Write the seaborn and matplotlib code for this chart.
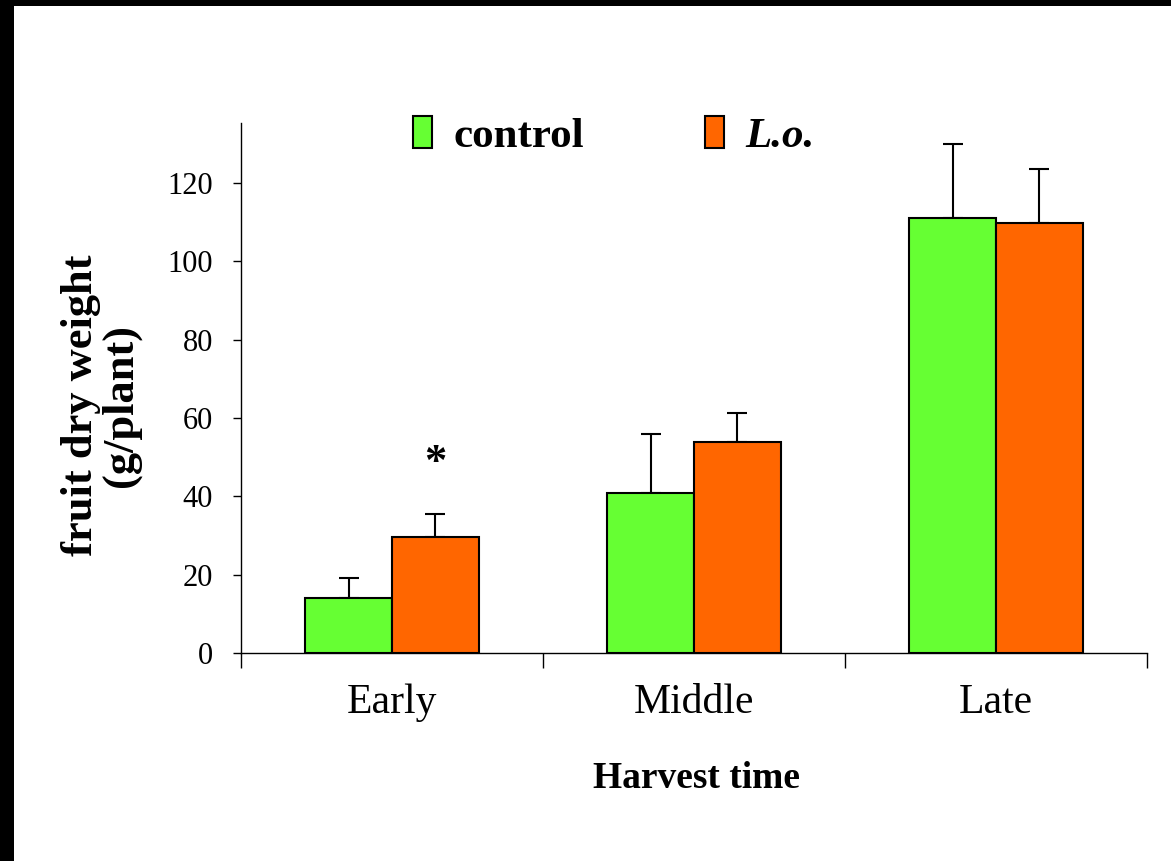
import numpy as np
import pandas as pd
import matplotlib
matplotlib.use('Agg')
import matplotlib.pyplot as plt
from matplotlib.patches import Rectangle
import seaborn as sns

# data
harvest = ['Early', 'Middle', 'Late']
treatments = ['control', 'L.o.']
control_mean = [14.0, 40.8, 111.0]
lo_mean = [29.6, 53.9, 109.7]
control_err = [5.1, 15.1, 19.0]
lo_err = [5.9, 7.4, 13.8]
ytick_vals = [0, 20, 40, 60, 80, 100, 120]

df = pd.DataFrame({
    'harvest': harvest * 2,
    'treatment': ['control'] * 3 + ['L.o.'] * 3,
    'weight': control_mean + lo_mean,
    'err': control_err + lo_err,
})

sns.set_style('white')
plt.rcParams['font.family'] = ['Liberation Serif', 'DejaVu Serif']
plt.rcParams['text.color'] = 'black'
plt.rcParams['axes.labelcolor'] = 'black'
plt.rcParams['xtick.color'] = 'black'
plt.rcParams['ytick.color'] = 'black'

fig = plt.figure(figsize=(11.71, 8.61), dpi=100)
fig.patch.set_facecolor('black')
# white page with black border on top and left
fig.patches.append(Rectangle((14 / 1171, 0), 1, 1 - 6 / 861, transform=fig.transFigure,
                             facecolor='white', edgecolor='none', zorder=-10))

ax = fig.add_axes([241 / 1171, 1 - 653 / 861, 906 / 1171, 530 / 861])
ax.set_facecolor('none')

sns.barplot(data=df, x='harvest', y='weight', hue='treatment', order=harvest,
            hue_order=treatments, palette=['#66FF33', '#FF6600'], saturation=1,
            width=0.573, edgecolor='black', linewidth=1.5, errorbar=None, ax=ax, zorder=2)

# upward error bars only
bars = [p for p in ax.patches if p.get_height() > 0][:6]
xs = [b.get_x() + b.get_width() / 2 for b in bars]
errs = control_err + lo_err
ys = control_mean + lo_mean
ax.errorbar(xs, ys, yerr=[np.zeros(len(errs)), errs], fmt='none', ecolor='black',
            elinewidth=1.5, capsize=7, capthick=1.5, zorder=1)

ax.set_xlim(-0.5, 2.5)
ax.set_ylim(0, 135.3)
ax.set_yticks(ytick_vals)
ax.set_yticklabels([str(v) for v in ytick_vals], fontsize=22)
ax.tick_params(axis='y', direction='out', length=6, width=1, color='black', pad=14, left=True)

ax.set_xticks(range(3))
ax.set_xticklabels(harvest, fontsize=30)
ax.tick_params(axis='x', which='major', length=0, pad=22)
ax.set_xticks([-0.5, 0.5, 1.5, 2.5], minor=True)
ax.tick_params(axis='x', which='minor', direction='out', length=11, width=1, color='black', bottom=True)

for s in ['top', 'right']:
    ax.spines[s].set_visible(False)
for s in ['left', 'bottom']:
    ax.spines[s].set_color('black')
    ax.spines[s].set_linewidth(1)

ax.set_xlabel('Harvest time', fontsize=27, fontweight='bold')
ax.xaxis.label.set_va('center')
ax.xaxis.set_label_coords(0.503, -0.236)
ax.set_ylabel('fruit dry weight\n(g/plant)', fontsize=32, fontweight='bold', linespacing=1.0)
ax.yaxis.set_label_coords(-0.110, 0.467)

# significance mark
ax.text(xs[3], 48.5, '*', fontsize=32, fontweight='bold', ha='center', va='center')

handles, labels = ax.get_legend_handles_labels()
leg = ax.legend(handles, labels, ncol=2, frameon=False, loc='center left',
                bbox_to_anchor=(413 / 1171, 1 - 136 / 861), bbox_transform=fig.transFigure,
                borderpad=0, borderaxespad=0, handlelength=0.44, handleheight=0.75,
                handletextpad=0.5, columnspacing=2.8, prop={'size': 31, 'weight': 'bold'})
leg.get_texts()[1].set_style('italic')

fig.savefig('out.png', dpi=100, facecolor=fig.get_facecolor())
